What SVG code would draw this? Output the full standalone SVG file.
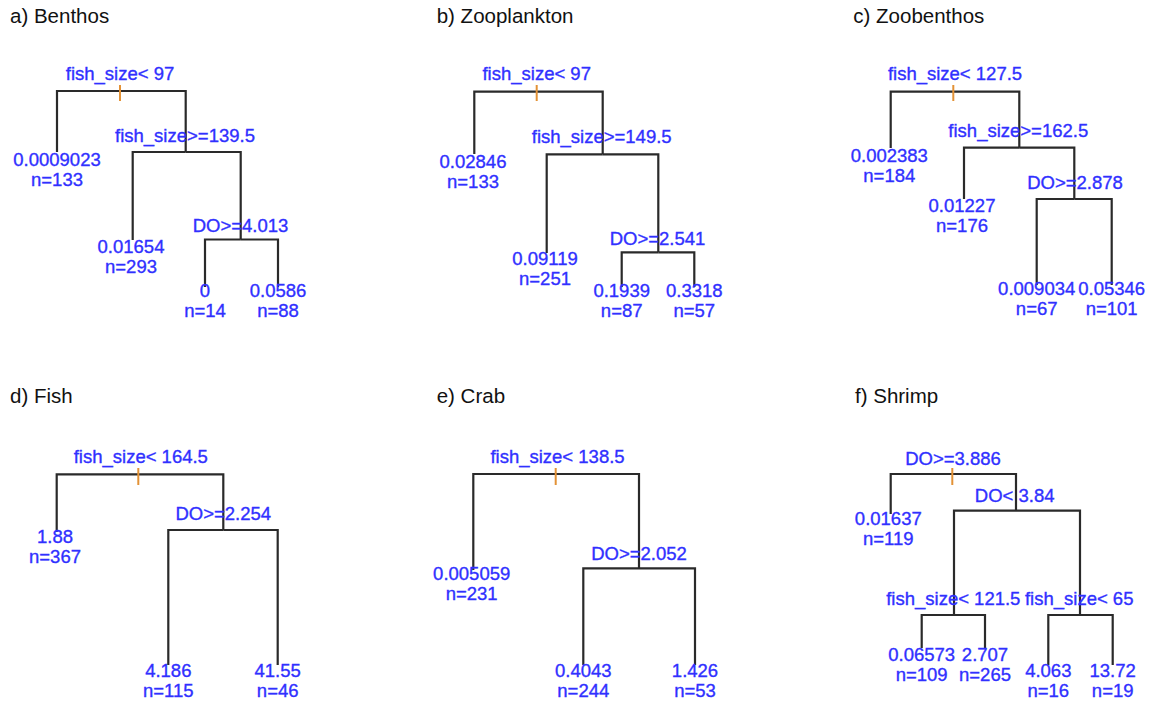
<svg xmlns="http://www.w3.org/2000/svg" width="1151" height="709" viewBox="0 0 1151 709">
<style>
.title{font-family:"Liberation Sans",Arial,sans-serif;font-size:20.5px;fill:#111}
.lbl{font-family:"Liberation Sans",Arial,sans-serif;font-size:18.5px;fill:#3030ff;stroke:#3030ff;stroke-width:0.35;text-anchor:middle}
.edge{fill:none;stroke:#2a2a2a;stroke-width:2.2}
.tick{stroke:#e39236;stroke-width:2}
</style>
<rect width="1151" height="709" fill="#fff"/>

<!-- Panel a -->
<g id="panel-a">
<text class="title" x="10" y="23">a) Benthos</text>
<g id="a-connectors">
<path class="edge" d="M120,91 H57 V152"/>
<path class="edge" d="M120,91 H185.7 V152"/>
<path class="edge" d="M185.7,152 H132.7 V240"/>
<path class="edge" d="M185.7,152 H240.7 V239.5"/>
<path class="edge" d="M240.7,239.5 H205 V287"/>
<path class="edge" d="M240.7,239.5 H278 V287"/>
<line class="tick" x1="120" y1="85" x2="120" y2="101"/>
</g>
<g id="a-n1"><text class="lbl" x="120" y="80">fish_size&lt; 97</text></g>
<g id="a-n2"><text class="lbl" x="57" y="166">0.0009023</text><text class="lbl" x="57" y="186">n=133</text></g>
<g id="a-n3"><text class="lbl" x="185" y="142">fish_size&gt;=139.5</text></g>
<g id="a-n4"><text class="lbl" x="131" y="253">0.01654</text><text class="lbl" x="131" y="273">n=293</text></g>
<g id="a-n5"><text class="lbl" x="240.5" y="232">DO&gt;=4.013</text></g>
<g id="a-n6"><text class="lbl" x="205" y="297">0</text><text class="lbl" x="205" y="317">n=14</text></g>
<g id="a-n7"><text class="lbl" x="278" y="297">0.0586</text><text class="lbl" x="278" y="317">n=88</text></g>
</g>

<!-- Panel b -->
<g id="panel-b">
<text class="title" x="436.7" y="23">b) Zooplankton</text>
<g id="b-connectors">
<path class="edge" d="M536.7,91.7 H474.3 V154"/>
<path class="edge" d="M536.7,91.7 H602.7 V154.3"/>
<path class="edge" d="M602.7,154.3 H546.7 V253"/>
<path class="edge" d="M602.7,154.3 H658.3 V252.3"/>
<path class="edge" d="M658.3,252.3 H621.7 V287"/>
<path class="edge" d="M658.3,252.3 H694.3 V287"/>
<line class="tick" x1="536.7" y1="85" x2="536.7" y2="101"/>
</g>
<g id="b-n1"><text class="lbl" x="536.7" y="80">fish_size&lt; 97</text></g>
<g id="b-n2"><text class="lbl" x="473" y="168">0.02846</text><text class="lbl" x="473" y="188">n=133</text></g>
<g id="b-n3"><text class="lbl" x="601.7" y="143.3">fish_size&gt;=149.5</text></g>
<g id="b-n4"><text class="lbl" x="545" y="265">0.09119</text><text class="lbl" x="545" y="285">n=251</text></g>
<g id="b-n5"><text class="lbl" x="657.5" y="245">DO&gt;=2.541</text></g>
<g id="b-n6"><text class="lbl" x="621.7" y="297">0.1939</text><text class="lbl" x="621.7" y="317">n=87</text></g>
<g id="b-n7"><text class="lbl" x="694.3" y="297">0.3318</text><text class="lbl" x="694.3" y="317">n=57</text></g>
</g>

<!-- Panel c -->
<g id="panel-c">
<text class="title" x="853.3" y="23">c) Zoobenthos</text>
<g id="c-connectors">
<path class="edge" d="M953.3,91.7 H890.7 V148"/>
<path class="edge" d="M953.3,91.7 H1019.3 V147.7"/>
<path class="edge" d="M1019.3,147.7 H964 V199"/>
<path class="edge" d="M1019.3,147.7 H1074.3 V199"/>
<path class="edge" d="M1074.3,199 H1036.7 V285"/>
<path class="edge" d="M1074.3,199 H1111.7 V285"/>
<line class="tick" x1="953.3" y1="85" x2="953.3" y2="101"/>
</g>
<g id="c-n1"><text class="lbl" x="955" y="80">fish_size&lt; 127.5</text></g>
<g id="c-n2"><text class="lbl" x="889.3" y="161.7">0.002383</text><text class="lbl" x="889.3" y="181.7">n=184</text></g>
<g id="c-n3"><text class="lbl" x="1018.3" y="137.3">fish_size&gt;=162.5</text></g>
<g id="c-n4"><text class="lbl" x="962" y="211.7">0.01227</text><text class="lbl" x="962" y="231.7">n=176</text></g>
<g id="c-n5"><text class="lbl" x="1075" y="189">DO&gt;=2.878</text></g>
<g id="c-n6"><text class="lbl" x="1036.7" y="295">0.009034</text><text class="lbl" x="1036.7" y="315">n=67</text></g>
<g id="c-n7"><text class="lbl" x="1111.7" y="295">0.05346</text><text class="lbl" x="1111.7" y="315">n=101</text></g>
</g>

<!-- Panel d -->
<g id="panel-d">
<text class="title" x="10" y="403.3">d) Fish</text>
<g id="d-connectors">
<path class="edge" d="M138.3,474.3 H56.7 V532"/>
<path class="edge" d="M138.3,474.3 H223.3 V530"/>
<path class="edge" d="M223.3,530 H168.3 V665"/>
<path class="edge" d="M223.3,530 H277.7 V665"/>
<line class="tick" x1="138.3" y1="468" x2="138.3" y2="485"/>
</g>
<g id="d-n1"><text class="lbl" x="140.8" y="463.3">fish_size&lt; 164.5</text></g>
<g id="d-n2"><text class="lbl" x="55" y="543.3">1.88</text><text class="lbl" x="55" y="563.3">n=367</text></g>
<g id="d-n3"><text class="lbl" x="223.3" y="520">DO&gt;=2.254</text></g>
<g id="d-n4"><text class="lbl" x="168.3" y="676.7">4.186</text><text class="lbl" x="168.3" y="696.7">n=115</text></g>
<g id="d-n5"><text class="lbl" x="277.7" y="676.7">41.55</text><text class="lbl" x="277.7" y="696.7">n=46</text></g>
</g>

<!-- Panel e -->
<g id="panel-e">
<text class="title" x="436.7" y="403.3">e) Crab</text>
<g id="e-connectors">
<path class="edge" d="M555.7,474 H473.3 V570"/>
<path class="edge" d="M555.7,474 H639 V568.3"/>
<path class="edge" d="M639,568.3 H583.3 V665"/>
<path class="edge" d="M639,568.3 H695 V665"/>
<line class="tick" x1="555.7" y1="468" x2="555.7" y2="485"/>
</g>
<g id="e-n1"><text class="lbl" x="557.5" y="463.3">fish_size&lt; 138.5</text></g>
<g id="e-n2"><text class="lbl" x="471.7" y="580">0.005059</text><text class="lbl" x="471.7" y="600">n=231</text></g>
<g id="e-n3"><text class="lbl" x="639" y="560">DO&gt;=2.052</text></g>
<g id="e-n4"><text class="lbl" x="583.3" y="676.7">0.4043</text><text class="lbl" x="583.3" y="696.7">n=244</text></g>
<g id="e-n5"><text class="lbl" x="695" y="676.7">1.426</text><text class="lbl" x="695" y="696.7">n=53</text></g>
</g>

<!-- Panel f -->
<g id="panel-f">
<text class="title" x="855" y="403.3">f) Shrimp</text>
<g id="f-connectors">
<path class="edge" d="M952.3,474 H890.7 V514"/>
<path class="edge" d="M952.3,474 H1016 V510.7"/>
<path class="edge" d="M1016,510.7 H954 V615"/>
<path class="edge" d="M1016,510.7 H1080 V615"/>
<path class="edge" d="M954,615 H921.7 V648"/>
<path class="edge" d="M954,615 H985 V648"/>
<path class="edge" d="M1080,615 H1048.3 V665"/>
<path class="edge" d="M1080,615 H1112.7 V665"/>
<line class="tick" x1="952.3" y1="468" x2="952.3" y2="485"/>
</g>
<g id="f-n1"><text class="lbl" x="953" y="465">DO&gt;=3.886</text></g>
<g id="f-n2"><text class="lbl" x="888.3" y="525">0.01637</text><text class="lbl" x="888.3" y="545">n=119</text></g>
<g id="f-n3"><text class="lbl" x="1014.7" y="501.7">DO&lt; 3.84</text></g>
<g id="f-n4"><text class="lbl" x="953.3" y="605">fish_size&lt; 121.5</text></g>
<g id="f-n5"><text class="lbl" x="1079.2" y="605">fish_size&lt; 65</text></g>
<g id="f-n6"><text class="lbl" x="921.7" y="661">0.06573</text><text class="lbl" x="921.7" y="681">n=109</text></g>
<g id="f-n7"><text class="lbl" x="985" y="661">2.707</text><text class="lbl" x="985" y="681">n=265</text></g>
<g id="f-n8"><text class="lbl" x="1048.3" y="676.7">4.063</text><text class="lbl" x="1048.3" y="696.7">n=16</text></g>
<g id="f-n9"><text class="lbl" x="1112.7" y="676.7">13.72</text><text class="lbl" x="1112.7" y="696.7">n=19</text></g>
</g>
</svg>
